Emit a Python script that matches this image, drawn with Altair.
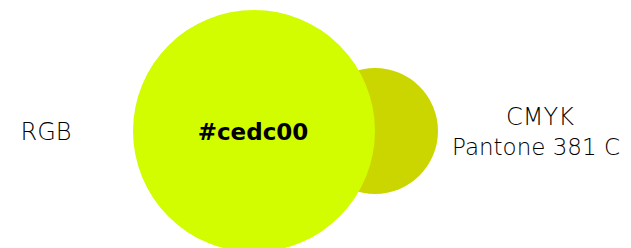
import altair as alt
import pandas as pd

# circles: name, x, y (top-down), radius (px units of the chart)
circle_names = ["CMYK", "RGB"]
circle_x = [367, 246]
circle_y = [123, 123]
circle_r = [63, 121]
circle_colors = ["#cbd600", "#d2fc00"]

label_texts = ["RGB", "#cedc00", "CMYK", "Pantone 381 C"]
label_x = [38, 245, 532, 528]
label_y = [125, 125, 110, 140]
label_size = [24, 23, 24, 23]
label_weight = ["light", "bold", "light", "light"]

W, H = 615, 240

circles = pd.DataFrame({
    "name": circle_names, "x": circle_x, "y": circle_y,
    "area": [4 * r * r for r in circle_r], "color": circle_colors,
    "order": [0, 1],
})
labels = pd.DataFrame({"text": label_texts, "x": label_x, "y": label_y,
                       "s": label_size, "w": label_weight})

xs = alt.Scale(domain=[0, W], nice=False, zero=False)
ys = alt.Scale(domain=[0, H], nice=False, zero=False, reverse=True)

circ = alt.Chart(circles).mark_circle(opacity=1).encode(
    x=alt.X("x:Q", scale=xs, axis=None),
    y=alt.Y("y:Q", scale=ys, axis=None),
    size=alt.Size("area:Q", scale=None, legend=None),
    color=alt.Color("color:N", scale=None, legend=None),
    order=alt.Order("order:Q"),
)

light = alt.Chart(labels).transform_filter(alt.datum.w == "light").mark_text(
    font="DejaVu Sans", fontWeight=200, color="#000000"
).encode(
    x=alt.X("x:Q", scale=xs, axis=None),
    y=alt.Y("y:Q", scale=ys, axis=None),
    size=alt.Size("s:Q", scale=None, legend=None),
    text="text:N",
)
bold = alt.Chart(labels).transform_filter(alt.datum.w == "bold").mark_text(
    font="DejaVu Sans", fontWeight="bold", color="#000000"
).encode(
    x=alt.X("x:Q", scale=xs, axis=None),
    y=alt.Y("y:Q", scale=ys, axis=None),
    size=alt.Size("s:Q", scale=None, legend=None),
    text="text:N",
)

chart = alt.layer(circ, light, bold).properties(
    width=W, height=H, padding=0, autosize=alt.AutoSizeParams(type="none")
).configure_view(stroke=None)

chart.save("out.html", embed_options={"renderer": "svg", "actions": False})
